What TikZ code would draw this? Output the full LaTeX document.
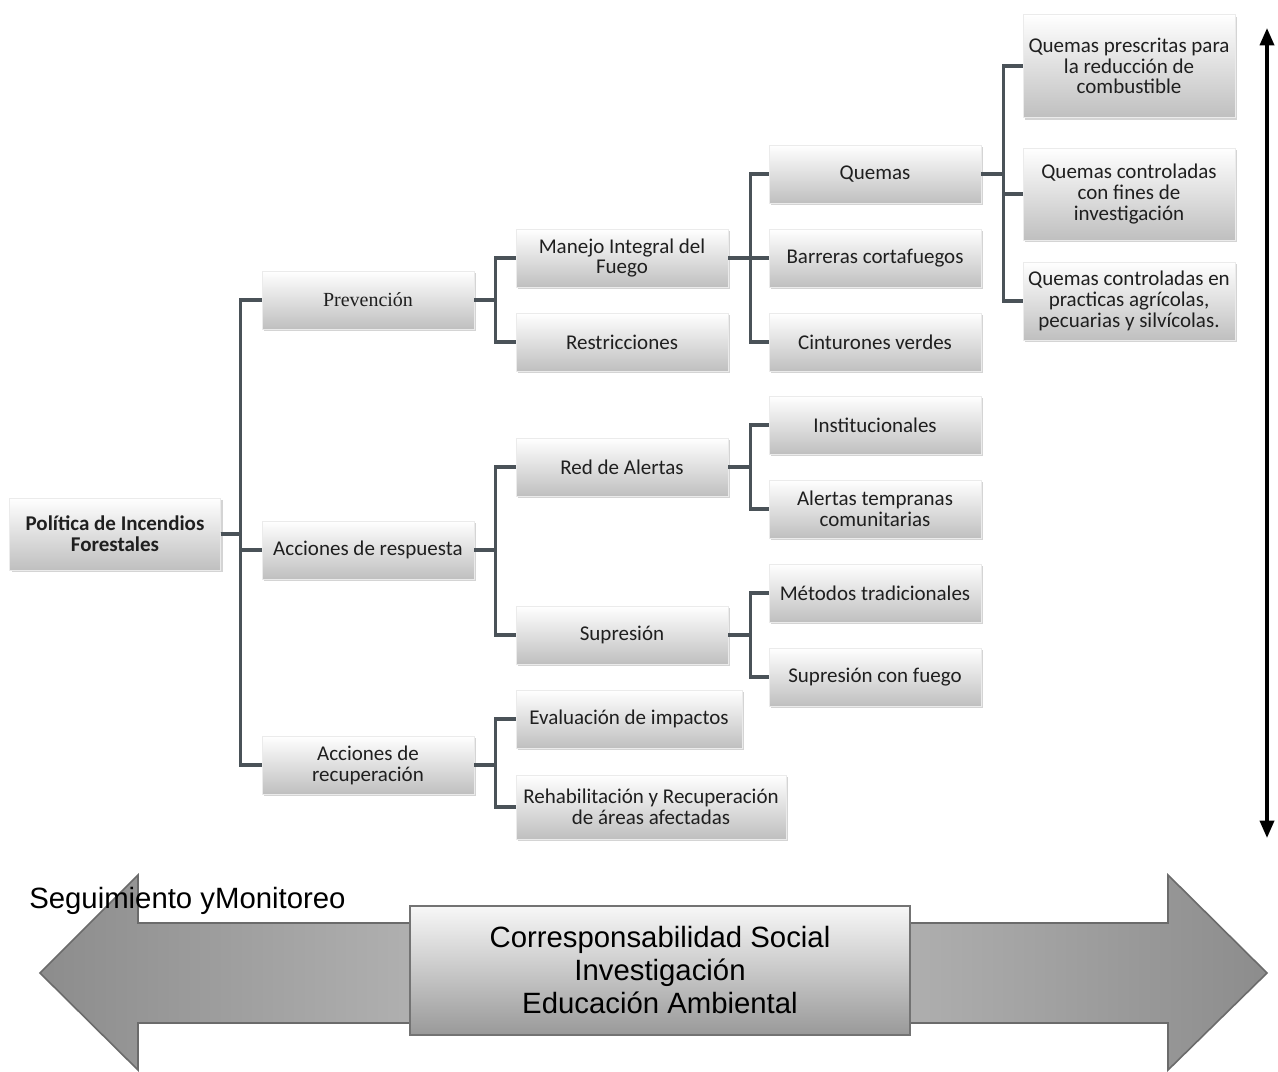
\documentclass[tikz,border=0pt]{standalone}
\usepackage{fontspec}
\setmainfont{Carlito}
\newfontfamily\arialf{Liberation Sans}
\newfontfamily\serf{Liberation Serif}
\usetikzlibrary{shadows,arrows.meta}
\definecolor{connc}{RGB}{74,82,88}
\tikzset{
  boxn/.style={inner sep=0pt, minimum width=159pt, minimum height=43.5pt, align=center,
    font=\fontsize{15.75}{15.6}\selectfont, text=black!88,
    top color=white, bottom color=black!25, draw=black!8, line width=0.3pt,
    drop shadow={shadow xshift=1.5pt, shadow yshift=-1.8pt, opacity=0.28, fill=black!60}},
  conn/.style={draw=connc, line width=2.3pt},
  bigtxt/.style={font=\arialf\fontsize{22}{24.75}\selectfont, text=black}
}
\begin{document}
\begin{tikzpicture}[x=0.75pt,y=-0.75pt]
\useasboundingbox (0,0) rectangle (1278,1071);
\fill[white] (0,0) rectangle (1278,1071);

% nodes
\node[boxn, minimum width=158.25pt, minimum height=54pt, font=\bfseries\fontsize{15.75}{15.6}\selectfont] (root) at (115,534) {Política de Incendios\\Forestales};
\node[boxn, font=\serf\fontsize{15}{15.6}\selectfont] (prev) at (368,300) {Prevención};
\node[boxn] (resp) at (368,550) {Acciones de respuesta};
\node[boxn] (recu) at (368,765) {Acciones de\\recuperación};

\node[boxn] (mif) at (622,258) {Manejo Integral del\\Fuego};
\node[boxn] (rest) at (622,342) {Restricciones};
\node[boxn] (red) at (622,467) {Red de Alertas};
\node[boxn] (sup) at (622,635) {Supresión};
\node[boxn, minimum width=169.5pt] (eval) at (629,719) {Evaluación de impactos};
\node[boxn, minimum width=202.5pt, minimum height=48pt] (rehab) at (651,807) {Rehabilitación y Recuperación\\de áreas afectadas};

\node[boxn] (quem) at (875,174) {Quemas};
\node[boxn] (barr) at (875,258) {Barreras cortafuegos};
\node[boxn] (cint) at (875,342) {Cinturones verdes};
\node[boxn] (inst) at (875,425) {Institucionales};
\node[boxn] (alert) at (875,509) {Alertas tempranas\\comunitarias};
\node[boxn] (met) at (875,593) {Métodos tradicionales};
\node[boxn] (supf) at (875,677) {Supresión con fuego};

\node[boxn, minimum height=77.25pt] (qp) at (1129,66) {Quemas prescritas para\\la reducción de\\combustible};
\node[boxn, minimum height=69pt] (qc) at (1129,194) {Quemas controladas\\con fines de\\investigación};
\node[boxn, minimum height=58.5pt] (qa) at (1129,301) {Quemas controladas en\\practicas agrícolas,\\pecuarias y silvícolas.};

% connectors
\foreach \c in {prev,resp,recu} \draw[conn] (root.east) -- ++(20,0) |- (\c.west);
\foreach \c in {mif,rest} \draw[conn] (prev.east) -- ++(21,0) |- (\c.west);
\foreach \c in {red,sup} \draw[conn] (resp.east) -- ++(21,0) |- (\c.west);
\foreach \c in {eval,rehab} \draw[conn] (recu.east) -- ++(21,0) |- (\c.west);
\foreach \c in {quem,barr,cint} \draw[conn] (mif.east) -- ++(22,0) |- (\c.west);
\foreach \c in {inst,alert} \draw[conn] (red.east) -- ++(22,0) |- (\c.west);
\foreach \c in {met,supf} \draw[conn] (sup.east) -- ++(22,0) |- (\c.west);
\foreach \c in {qp,qc,qa} \draw[conn] (quem.east) -- ++(22,0) |- (\c.west);

% vertical double arrow
\coordinate (vtop) at (1267,28);
\coordinate (vbot) at (1267,838);
\draw[line width=2.6pt, {Triangle[width=10.5pt,length=13pt]}-{Triangle[width=10.5pt,length=13pt]}] (vtop) -- (vbot);

% bottom double block arrow
\draw[draw=black!58, line width=1.2pt, left color=black!45, right color=black!45, middle color=black!22]
  (40,973) -- (138,875) -- (138,923) -- (1168,923) -- (1168,875) -- (1267,973)
  -- (1168,1070) -- (1168,1023) -- (138,1023) -- (138,1070) -- cycle;

\node[bigtxt, anchor=west, inner sep=0pt] (seg) at (29,901) {Seguimiento yMonitoreo};

\node[bigtxt, draw=black!55, line width=1.4pt, top color=black!3, bottom color=black!40,
  minimum width=375pt, minimum height=96.75pt, align=center, inner sep=0pt] (cbox) at (660,970.5)
  {Corresponsabilidad Social\\Investigación\\Educación Ambiental};
\end{tikzpicture}
\end{document}
